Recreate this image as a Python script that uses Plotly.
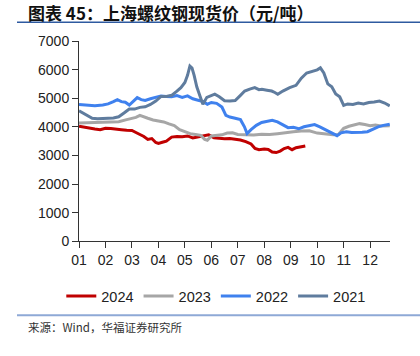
import plotly.graph_objects as go

month_ticks = [1, 2, 3, 4, 5, 6, 7, 8, 9, 10, 11, 12]
month_labels = ["01", "02", "03", "04", "05", "06", "07", "08", "09", "10", "11", "12"]

x2024 = [1.0, 1.2, 1.4, 1.6, 1.8, 2.0, 2.2, 2.4, 2.6, 2.8, 3.0, 3.15, 3.3, 3.45, 3.6, 3.75, 3.9, 4.0, 4.15, 4.3,
         4.5, 4.7, 4.9, 5.1, 5.3, 5.5, 5.7, 5.9, 6.1, 6.3, 6.5, 6.7, 6.9, 7.1, 7.3, 7.5, 7.65, 7.8, 8.0, 8.15,
         8.3, 8.45, 8.6, 8.75, 8.9, 9.05, 9.2, 9.35, 9.5, 9.55]
y2024 = [4020, 3980, 3950, 3920, 3900, 3950, 3940, 3930, 3900, 3880, 3870, 3800, 3730, 3660, 3560, 3590, 3450, 3420, 3460, 3500,
         3640, 3660, 3650, 3680, 3610, 3650, 3690, 3720, 3620, 3600, 3580, 3590, 3560, 3540, 3480, 3400, 3240, 3200, 3220, 3210,
         3120, 3100, 3150, 3240, 3280, 3200, 3270, 3300, 3320, 3330]

x2023 = [1.0, 1.3, 1.6, 1.9, 2.2, 2.5, 2.8, 3.0, 3.15, 3.3, 3.45, 3.6, 3.8, 4.0, 4.2, 4.4, 4.6, 4.8, 5.0, 5.2,
         5.4, 5.6, 5.75, 5.85, 6.0, 6.2, 6.4, 6.6, 6.8, 7.0, 7.3, 7.6, 7.9, 8.2, 8.5, 8.8, 9.1, 9.4, 9.7, 10.0,
         10.3, 10.6, 10.8, 11.0, 11.2, 11.4, 11.6, 11.8, 12.0, 12.2, 12.4, 12.74]
y2023 = [4130, 4140, 4150, 4170, 4160, 4180, 4250, 4290, 4330, 4400, 4340, 4300, 4240, 4210, 4170, 4100, 4040, 3900, 3820, 3760,
         3730, 3700, 3560, 3530, 3680, 3700, 3720, 3780, 3790, 3730, 3720, 3710, 3740, 3730, 3760, 3800, 3830, 3850, 3860, 3780,
         3740, 3720, 3730, 3950, 4020, 4060, 4110, 4080, 4040, 4060, 4030, 4040]

x2022 = [1.0, 1.3, 1.6, 1.9, 2.1, 2.3, 2.45, 2.6, 2.75, 2.9, 3.05, 3.2, 3.35, 3.5, 3.7, 3.9, 4.1, 4.3, 4.5, 4.7,
         4.9, 5.1, 5.3, 5.5, 5.7, 5.85, 6.0, 6.2, 6.4, 6.55, 6.7, 6.9, 7.1, 7.25, 7.35, 7.5, 7.7, 7.9, 8.1, 8.3,
         8.5, 8.7, 8.9, 9.1, 9.3, 9.5, 9.7, 9.9, 10.1, 10.3, 10.5, 10.75, 10.9, 11.1, 11.3, 11.5, 11.7, 11.9, 12.1, 12.3,
         12.5, 12.74]
y2022 = [4780, 4750, 4740, 4760, 4800, 4880, 4950, 4880, 4860, 4760, 4880, 5020, 4950, 4920, 4980, 5020, 5080, 5060, 5050, 5090,
         5030, 5080, 4980, 4930, 4880, 4790, 4850, 4820, 4690, 4400, 4340, 4300, 4250, 4000, 3760, 3900, 4050, 4150, 4200, 4230,
         4170, 4080, 3970, 3980, 3930, 4000, 4040, 4080, 4000, 3900, 3820, 3690, 3790, 3830, 3800, 3800, 3810, 3830, 3920, 4000,
         4050, 4090]

x2021 = [1.0, 1.15, 1.3, 1.5, 1.7, 1.9, 2.1, 2.3, 2.5, 2.7, 2.9, 3.1, 3.3, 3.5, 3.7, 3.9, 4.1, 4.3, 4.5, 4.7,
         4.85, 5.0, 5.1, 5.19, 5.27, 5.35, 5.45, 5.57, 5.68, 5.83, 6.0, 6.13, 6.3, 6.5, 6.7, 6.9, 7.1, 7.26, 7.45, 7.64,
         7.8, 7.91, 8.1, 8.28, 8.4, 8.51, 8.7, 8.96, 9.2, 9.4, 9.6, 9.8, 10.0, 10.12, 10.25, 10.4, 10.55, 10.7, 10.85, 11.0,
         11.15, 11.35, 11.55, 11.75, 11.95, 12.15, 12.35, 12.55, 12.74]
y2021 = [4560, 4480, 4380, 4300, 4280, 4300, 4300, 4310, 4350, 4480, 4620, 4620, 4680, 4700, 4780, 4900, 5060, 5060, 5100, 5250,
         5370, 5550, 5800, 6120, 6050, 5800, 5400, 5080, 4790, 5030, 5080, 5140, 5050, 4910, 4900, 4920, 5100, 5250, 5320, 5370,
         5300, 5310, 5280, 5250, 5200, 5140, 5250, 5370, 5450, 5700, 5880, 5930, 5990, 6060, 5880, 5500, 5400, 5150, 5050, 4750,
         4800, 4780, 4830, 4800, 4850, 4870, 4900, 4830, 4730]

series = [
    ("2024", x2024, y2024, "#C00000"),
    ("2023", x2023, y2023, "#A6A6A6"),
    ("2022", x2022, y2022, "#3F81EE"),
    ("2021", x2021, y2021, "#5F7C9E"),
]

fig = go.Figure()
for name, xs, ys, color in series:
    fig.add_trace(go.Scatter(x=xs, y=ys, name=name, mode="lines",
                             line=dict(color=color, width=3)))

fig.update_layout(
    width=420, height=356,
    margin=dict(l=79, r=30, t=41, b=112),
    paper_bgcolor="white", plot_bgcolor="white",
    font=dict(family="Liberation Sans, Arial, sans-serif", size=14, color="#222"),
    showlegend=True,
    legend=dict(orientation="h", xref="container", yref="container",
                x=0.515, y=1 - 296 / 356, xanchor="center", yanchor="middle",
                font=dict(size=14.5, color="#222"), itemwidth=30,
                tracegroupgap=0, bgcolor="rgba(0,0,0,0)"),
    xaxis=dict(range=[1, 12.75], tickmode="array", tickvals=month_ticks, ticktext=month_labels,
               showline=True, linecolor="#333", linewidth=1, ticks="outside", ticklen=6,
               tickcolor="#333", showgrid=False, zeroline=False, tickfont=dict(size=14)),
    yaxis=dict(range=[0, 7000], tickvals=[0, 1000, 2000, 3000, 4000, 5000, 6000, 7000],
               showline=True, linecolor="#333", linewidth=1, ticks="outside", ticklen=6,
               tickcolor="#333", showgrid=False, zeroline=False, tickfont=dict(size=14)),
    shapes=[
        dict(type="line", xref="paper", yref="paper", x0=-62/311, x1=1+30/311,
             y0=1+19/203, y1=1+19/203, line=dict(color="#2E5AA0", width=1.5)),
        dict(type="line", xref="paper", yref="paper", x0=-62/311, x1=1+30/311,
             y0=-75/203, y1=-75/203, line=dict(color="#8EA9D6", width=2)),
    ],
    annotations=[
        dict(text="<b>图表 45：上海螺纹钢现货价（元/吨）</b>", xref="paper", yref="paper",
             x=-53/311, y=1+28.5/203, xanchor="left", yanchor="middle", showarrow=False,
             font=dict(family="Noto Sans CJK SC", size=17, color="#111")),
        dict(text="来源：Wind，华福证券研究所", xref="paper", yref="paper",
             x=-53/311, y=-87.5/203, xanchor="left", yanchor="middle", showarrow=False,
             font=dict(family="Noto Sans CJK SC", size=11.5, color="#333")),
    ],
)

fig.write_html("out.html", config={"displayModeBar": False},
               post_script="document.body.style.margin='0';")
